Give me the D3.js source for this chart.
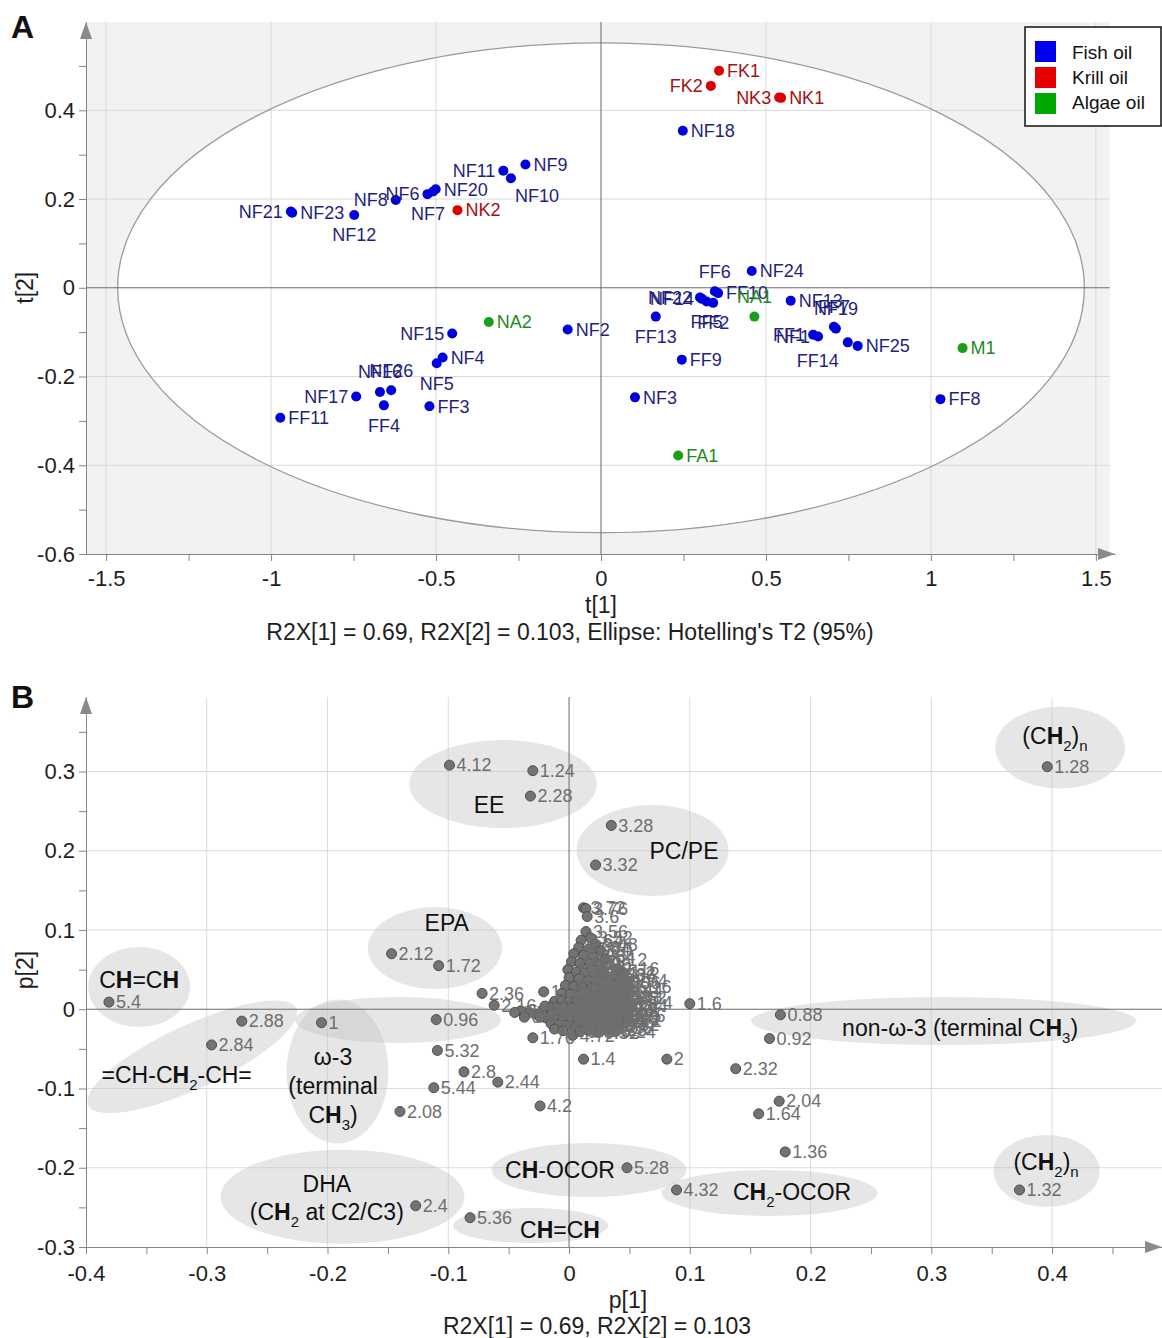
<!doctype html>
<html>
<head>
<meta charset="utf-8">
<script src="https://cdn.jsdelivr.net/npm/d3@7"></script>
<style>
  body { margin: 0; background: #fff; }
  svg { display: block; font-family: Arial, "Liberation Sans", sans-serif; }
  .axis .domain, .axis line { stroke: #858585; }
  .axis text { font-size: 22px; fill: #1e1e1e; font-family: Arial, "Liberation Sans", sans-serif; }
</style>
</head>
<body>
<svg id="chart" width="1162" height="1338"></svg>
<script>
// ---- panel A : scores t[1], t[2] ----
var fishOil = [
  ["NF21",-0.940,0.172],["NF23",-0.936,0.169],["NF12",-0.748,0.164],["NF8",-0.622,0.198],
  ["NF6",-0.526,0.211],["NF7",-0.509,0.217],["NF20",-0.501,0.222],["NF11",-0.296,0.264],
  ["NF10",-0.273,0.247],["NF9",-0.229,0.278],["NF18",0.248,0.354],
  ["NF2",-0.101,-0.094],["NF15",-0.451,-0.103],["NF4",-0.480,-0.157],["NF5",-0.498,-0.170],
  ["NF16",-0.670,-0.235],["NF26",-0.636,-0.231],["NF17",-0.742,-0.245],["FF4",-0.658,-0.265],
  ["FF3",-0.520,-0.267],["FF11",-0.972,-0.293],
  ["FF6",0.345,-0.008],["NF24",0.457,0.038],["NF22",0.300,-0.022],["NF14",0.306,-0.025],
  ["FF5",0.320,-0.031],["FF2",0.340,-0.034],["FF10",0.355,-0.012],["FF13",0.166,-0.065],
  ["NF13",0.575,-0.029],["FF7",0.706,-0.088],["NF19",0.712,-0.092],["FF1",0.643,-0.106],
  ["NF1",0.658,-0.110],["FF14",0.748,-0.123],["NF25",0.778,-0.131],["FF8",1.029,-0.251],
  ["FF9",0.245,-0.162],["NF3",0.103,-0.247]
];
var krillOil = [["FK1",0.358,0.489],["FK2",0.333,0.455],["NK3",0.540,0.429],["NK1",0.546,0.428],["NK2",-0.435,0.175]];
var algaeOil = [["NA2",-0.340,-0.077],["NA1",0.465,-0.065],["M1",1.096,-0.136],["FA1",0.234,-0.378]];
var groupNames = ["Fish oil", "Krill oil", "Algae oil"];
var hotellingT2 = [1.465, 0.552];   // ellipse semi-axes (t units)

var aXTicks = [-1.5,-1,-0.5,0,0.5,1,1.5], aXMinor = [-1.25,-0.75,-0.25,0.25,0.75,1.25];
var aYTicks = [-0.6,-0.4,-0.2,0,0.2,0.4], aYMinor = [-0.5,-0.3,-0.1,0.1,0.3,0.5];

// ---- panel B : loadings p[1], p[2] (label = ppm) ----
var loadingsLabelled = [
  ["5.4",-0.381,0.009],["2.88",-0.271,-0.015],["2.84",-0.296,-0.045],["1",-0.205,-0.017],
  ["0.96",-0.110,-0.013],["5.32",-0.109,-0.052],["2.8",-0.087,-0.079],["2.44",-0.059,-0.092],
  ["5.44",-0.112,-0.099],["2.08",-0.140,-0.129],["4.2",-0.024,-0.122],["2.12",-0.147,0.070],
  ["1.72",-0.108,0.055],["2.36",-0.072,0.020],["2.16",-0.062,0.005],["1.08",-0.021,0.022],
  ["1.76",-0.030,-0.036],["2.4",-0.127,-0.248],["5.36",-0.082,-0.263],["4.12",-0.099,0.308],
  ["1.24",-0.030,0.301],["2.28",-0.032,0.269],["3.28",0.035,0.232],["3.32",0.022,0.182],
  ["1.6",0.100,0.007],["0.88",0.175,-0.007],["0.92",0.166,-0.037],["1.4",0.012,-0.063],
  ["2",0.081,-0.063],["2.32",0.138,-0.075],["2.04",0.174,-0.116],["1.64",0.157,-0.132],
  ["1.36",0.179,-0.180],["5.28",0.048,-0.200],["4.32",0.089,-0.228],["1.32",0.373,-0.228],
  ["1.28",0.396,0.306]
];
var loadingsCluster = [
  ["3.72",0.012,0.128],["3.76",0.014,0.127],["3.6",0.015,0.117],["3.56",0.014,0.098],
  ["3.52",0.018,0.090],["3.64",0.010,0.087],["3.48",0.022,0.082],["3.68",0.008,0.078],
  ["3.44",0.016,0.076],["1.0",0.026,0.074],["3.8",0.004,0.070],["3.36",0.012,0.068],
  ["3.84",0.020,0.066],["1.12",0.030,0.063],["3.88",0.002,0.060],["3.92",0.009,0.058],
  ["3.96",0.017,0.057],["4.0",0.025,0.055],["1.2",0.045,0.046],["1.16",0.040,0.051],
  ["4.04",-0.001,0.050],["4.08",0.006,0.047],["4.16",0.013,0.046],["4.24",0.021,0.045],
  ["4.28",0.029,0.044],["4.36",0.037,0.042],["4.4",0.000,0.040],["4.44",0.008,0.038],
  ["4.48",0.016,0.036],["4.52",0.024,0.035],["4.56",0.032,0.034],["1.06",0.041,0.033],
  ["1.04",0.047,0.036],["4.6",-0.003,0.030],["4.64",0.004,0.029],["4.68",0.011,0.028],
  ["4.76",0.019,0.027],["4.8",0.027,0.026],["4.84",0.035,0.025],["1.44",0.043,0.024],
  ["4.88",-0.006,0.020],["4.92",0.001,0.019],["4.96",0.009,0.018],["5.0",0.017,0.018],
  ["5.04",0.025,0.017],["5.08",0.033,0.016],["1.48",0.040,0.015],["1.52",0.046,0.014],
  ["5.12",-0.012,0.010],["5.16",-0.006,0.011],["5.2",0.000,0.010],["5.24",0.006,0.009],
  ["5.48",0.013,0.009],["5.52",0.020,0.008],["5.56",0.027,0.008],["5.6",0.034,0.007],
  ["0.8",0.041,0.006],["0.84",0.047,0.005],
  ["1.56",-0.016,0.003],["1.68",-0.010,0.002],["1.8",-0.004,0.003],["1.84",0.002,0.002],
  ["1.88",0.008,0.001],["1.92",0.015,0.002],["1.96",0.022,0.000],["2.2",0.029,0.001],
  ["2.24",0.036,-0.001],["3.0",0.043,-0.002],["3.4",0.048,0.000],
  ["2.48",-0.022,-0.003],["2.52",-0.014,-0.005],["2.56",-0.008,-0.004],["2.6",-0.002,-0.006],
  ["2.64",0.004,-0.005],["2.68",0.011,-0.007],["2.72",0.018,-0.006],["2.76",0.025,-0.008],
  ["2.92",0.032,-0.007],["2.96",0.039,-0.009],["0.76",0.045,-0.008],
  ["3.04",-0.028,-0.006],["3.08",-0.019,-0.011],["3.12",-0.012,-0.012],["3.16",-0.005,-0.013],
  ["3.2",0.001,-0.012],["3.24",0.008,-0.014],["0.72",0.015,-0.013],["0.68",0.022,-0.015],
  ["5.64",0.029,-0.014],["5.68",0.036,-0.016],["5.72",0.042,-0.015],
  ["5.76",-0.033,-0.004],["5.8",-0.024,-0.010],["5.84",-0.015,-0.018],["5.88",-0.008,-0.019],
  ["5.92",-0.001,-0.020],["5.96",0.006,-0.021],["6.0",0.013,-0.020],["0.64",0.020,-0.022],
  ["0.6",0.027,-0.021],["0.56",0.034,-0.023],["0.52",0.040,-0.020],
  ["4.72",0.003,-0.033],["0.48",-0.012,-0.025],["0.44",-0.005,-0.027],["0.4",0.009,-0.028],
  ["0.36",0.016,-0.027],["0.32",0.023,-0.029],["0.28",0.030,-0.026],["0.24",0.037,-0.028],
  ["6.04",-0.040,-0.002],["6.08",-0.045,-0.004],["6.12",-0.037,-0.010],["6.16",0.050,0.028],
  ["6.2",0.049,-0.012],["6.24",0.051,0.008],["6.28",-0.020,0.004]
];

var bXTicks = [-0.4,-0.3,-0.2,-0.1,0,0.1,0.2,0.3,0.4];
var bXMinor = [-0.35,-0.25,-0.15,-0.05,0.05,0.15,0.25,0.35,0.45];
var bYTicks = [-0.3,-0.2,-0.1,0,0.1,0.2,0.3];
var bYMinor = [-0.25,-0.15,-0.05,0.05,0.15,0.25,0.35];

// assignment regions drawn on the loadings plot (p units)
var regions = [
  {cx:-0.356, cy:0.028,  rx:0.0422, ry:0.0505, rot:0},
  {cx:-0.312, cy:-0.060, rx:0.095,  ry:0.040,  rot:-25},
  {cx:-0.1917,cy:-0.0786,rx:0.0422, ry:0.0909, rot:0},
  {cx:-0.1416,cy:-0.0136,rx:0.0853, ry:0.029,  rot:0},
  {cx:-0.111, cy:0.0772, rx:0.0555, ry:0.0517, rot:0},
  {cx:-0.1876,cy:-0.2366,rx:0.101,  ry:0.0593, rot:0},
  {cx:-0.0319,cy:-0.2729,rx:0.0642, ry:0.0221, rot:0},
  {cx:0.0166, cy:-0.2029,rx:0.0807, ry:0.0341, rot:0},
  {cx:0.166,  cy:-0.2319,rx:0.0894, ry:0.029,  rot:0},
  {cx:0.3101, cy:-0.0149,rx:0.1594, ry:0.0303, rot:0},
  {cx:0.3955, cy:-0.2042,rx:0.0439, ry:0.0454, rot:0},
  {cx:0.4066, cy:0.3302, rx:0.0538, ry:0.0517, rot:0},
  {cx:-0.0547,cy:0.2842, rx:0.0778, ry:0.0555, rot:0},
  {cx:0.0691, cy:0.2003, rx:0.0629, ry:0.0574, rot:0}
];
var regionText = [
  ["C**H**=C**H**", -0.356, 0.0368],
  ["=CH-C**H**_{2}-CH=", -0.3249, -0.083],
  ["ω-3", -0.1954, -0.0603], ["(terminal", -0.1954, -0.0969], ["C**H**_{3})", -0.1954, -0.1335],
  ["EPA", -0.1013, 0.1088],
  ["DHA", -0.2006, -0.2206], ["(C**H**_{2} at C2/C3)", -0.2006, -0.2559],
  ["C**H**=C**H**", -0.0075, -0.2786],
  ["C**H**-OCOR", -0.0075, -0.2029],
  ["C**H**_{2}-OCOR", 0.1847, -0.2306],
  ["non-ω-3 (terminal C**H**_{3})", 0.3238, -0.0237],
  ["(C**H**_{2})_{n}", 0.395, -0.1928],
  ["(C**H**_{2})_{n}", 0.4024, 0.3447],
  ["EE", -0.0662, 0.2577],
  ["PC/PE", 0.0952, 0.1996]
];

// label placement for the score plot: default is right of the point
var labelPlace = {
  NF21:"l", NF12:"b", NF8:"l", NF6:"l", NF7:[12,22,"end"], NF11:"l", NF10:[4,18,"start"],
  NF15:"l", NF5:"b", NF16:"t", NF26:"t", NF17:"l", FF4:"b", FF6:"t", NF22:"l", NF14:"l",
  FF5:"b", FF2:"b", FF13:"b", FF7:"t", NF19:"t", FF1:"l", NF1:"l", FF14:[-9,18,"end"],
  FK2:"l", NK3:"l", NA1:"t"
};
var placeCodes = { r:[8,0,"start"], l:[-8,0,"end"], t:[0,-20,"middle"], b:[0,20,"middle"] };

var dotColors = ["#0000dd", "#dd0000", "#1a9e1a"];
var textColors = ["#1f1f80", "#a31010", "#1f8a1f"];
var legendColors = ["#0000f0", "#e80000", "#00a800"];

var svg = d3.select("#chart");
var fmt = function(d) { return String(Math.round(d * 100) / 100); };

function arrowRight(g, x, y) {
  g.append("path").attr("d", "M" + x + "," + y + "L" + (x - 17) + "," + (y - 6) + "L" + (x - 17) + "," + (y + 6) + "Z")
    .attr("fill", "#8a8a8a");
}
function arrowUp(g, x, y) {
  g.append("path").attr("d", "M" + x + "," + y + "L" + (x - 6) + "," + (y + 17) + "L" + (x + 6) + "," + (y + 17) + "Z")
    .attr("fill", "#8a8a8a");
}
function drawAxes(g, x, y, xt, xm, yt, ym, pad) {
  var y0 = y.range()[0], x0 = x.range()[0];
  g.append("g").attr("class", "axis").attr("transform", "translate(0," + y0 + ")")
    .call(d3.axisBottom(x).tickValues(xm).tickFormat("").tickSize(7).tickSizeOuter(0));
  g.append("g").attr("class", "axis").attr("transform", "translate(0," + y0 + ")")
    .call(d3.axisBottom(x).tickValues(xt).tickFormat(fmt).tickSize(7).tickSizeOuter(0).tickPadding(pad));
  g.append("g").attr("class", "axis").attr("transform", "translate(" + x0 + ",0)")
    .call(d3.axisLeft(y).tickValues(ym).tickFormat("").tickSize(7).tickSizeOuter(0));
  g.append("g").attr("class", "axis").attr("transform", "translate(" + x0 + ",0)")
    .call(d3.axisLeft(y).tickValues(yt).tickFormat(fmt).tickSize(7).tickSizeOuter(0).tickPadding(4));
  arrowRight(g, x.range()[1], y0);
  arrowUp(g, x0, y.range()[1]);
}
function richText(t, str) {
  var parts = str.split(/(\*\*[^*]+\*\*|_\{[^}]+\})/).filter(function(s) { return s.length; });
  var shifted = false;
  parts.forEach(function(s) {
    var ts = t.append("tspan");
    if (s.indexOf("**") === 0) { ts.attr("font-weight", "bold").text(s.slice(2, -2)); }
    else if (s.indexOf("_{") === 0) { ts.attr("font-size", "15px").attr("dy", 7).text(s.slice(2, -1)); shifted = true; return; }
    else { ts.text(s); }
    if (shifted) { ts.attr("dy", -7); shifted = false; }
  });
}

// ================= panel A =================
var xA = d3.scaleLinear().domain([-1.561, 1.558]).range([86, 1115]);
var yA = d3.scaleLinear().domain([-0.6, 0.599]).range([554, 22]);
var gA = svg.append("g");

gA.append("rect").attr("x", xA(-1.561)).attr("y", yA(0.599))
  .attr("width", xA(1.542) - xA(-1.561)).attr("height", yA(-0.6) - yA(0.599)).attr("fill", "#f2f2f2");
gA.append("ellipse").attr("cx", xA(0)).attr("cy", yA(0))
  .attr("rx", xA(hotellingT2[0]) - xA(0)).attr("ry", yA(0) - yA(hotellingT2[1])).attr("fill", "#fff");
gA.selectAll(".gx").data(aXTicks.filter(function(d) { return d !== 0; })).enter().append("line")
  .attr("x1", function(d) { return xA(d); }).attr("x2", function(d) { return xA(d); })
  .attr("y1", yA(0.599)).attr("y2", yA(-0.6)).attr("stroke", "#d9d9d9");
gA.selectAll(".gy").data(aYTicks.filter(function(d) { return d !== 0 && d !== -0.6; })).enter().append("line")
  .attr("x1", xA(-1.561)).attr("x2", xA(1.542))
  .attr("y1", function(d) { return yA(d); }).attr("y2", function(d) { return yA(d); }).attr("stroke", "#d9d9d9");
gA.append("ellipse").attr("cx", xA(0)).attr("cy", yA(0))
  .attr("rx", xA(hotellingT2[0]) - xA(0)).attr("ry", yA(0) - yA(hotellingT2[1]))
  .attr("fill", "none").attr("stroke", "#9a9a9a").attr("stroke-width", 1.3);
gA.append("line").attr("x1", xA(0)).attr("x2", xA(0)).attr("y1", yA(0.599)).attr("y2", yA(-0.6)).attr("stroke", "#6a6a6a");
gA.append("line").attr("x1", xA(-1.561)).attr("x2", xA(1.542)).attr("y1", yA(0)).attr("y2", yA(0)).attr("stroke", "#6a6a6a");
drawAxes(gA, xA, yA, aXTicks, aXMinor, aYTicks, aYMinor, 9);

[fishOil, krillOil, algaeOil].forEach(function(rows, gi) {
  var grp = gA.append("g");
  grp.selectAll("circle").data(rows).enter().append("circle")
    .attr("cx", function(d) { return xA(d[1]); }).attr("cy", function(d) { return yA(d[2]); })
    .attr("r", 5).attr("fill", dotColors[gi]);
  grp.selectAll("text").data(rows).enter().append("text")
    .each(function(d) {
      var p = labelPlace[d[0]] || "r";
      if (typeof p === "string") p = placeCodes[p];
      d3.select(this).attr("x", xA(d[1]) + p[0]).attr("y", yA(d[2]) + p[1]).attr("text-anchor", p[2]);
    })
    .attr("dy", "0.35em").attr("font-size", "18px").attr("fill", textColors[gi])
    .text(function(d) { return d[0]; });
});

// legend
var leg = gA.append("g").attr("transform", "translate(1025,27)");
leg.append("rect").attr("x", 0).attr("y", 0).attr("width", 136).attr("height", 99)
  .attr("fill", "#fff").attr("stroke", "#111").attr("stroke-width", 1.5);
groupNames.forEach(function(n, i) {
  leg.append("rect").attr("x", 10).attr("y", 14 + i * 26).attr("width", 21).attr("height", 21).attr("fill", legendColors[i]);
  leg.append("text").attr("x", 47).attr("y", 25 + i * 25).attr("dy", "0.35em").attr("font-size", "19px").attr("fill", "#111").text(n);
});

gA.append("text").attr("x", 11).attr("y", 38).attr("font-size", "32px").attr("font-weight", "bold").attr("fill", "#111").text("A");
gA.append("text").attr("x", 601).attr("y", 613).attr("text-anchor", "middle").attr("font-size", "23px").attr("fill", "#1e1e1e").text("t[1]");
gA.append("text").attr("x", 570).attr("y", 640).attr("text-anchor", "middle").attr("font-size", "23px").attr("fill", "#1e1e1e")
  .text("R2X[1] = 0.69, R2X[2] = 0.103, Ellipse: Hotelling's T2 (95%)");
gA.append("text").attr("transform", "translate(33," + yA(0) + ") rotate(-90)").attr("text-anchor", "middle")
  .attr("font-size", "23px").attr("fill", "#1e1e1e").text("t[2]");

// ================= panel B =================
var xB = d3.scaleLinear().domain([-0.4, 0.491]).range([86, 1162]);
var yB = d3.scaleLinear().domain([-0.3, 0.394]).range([1247, 697]);
var gB = svg.append("g");

gB.selectAll(".gx").data(bXTicks.filter(function(d) { return d !== 0 && d !== -0.4; })).enter().append("line")
  .attr("x1", function(d) { return xB(d); }).attr("x2", function(d) { return xB(d); })
  .attr("y1", yB(0.394)).attr("y2", yB(-0.3)).attr("stroke", "#dcdcdc");
gB.selectAll(".gy").data(bYTicks.filter(function(d) { return d !== 0 && d !== -0.3; })).enter().append("line")
  .attr("x1", xB(-0.4)).attr("x2", xB(0.491))
  .attr("y1", function(d) { return yB(d); }).attr("y2", function(d) { return yB(d); }).attr("stroke", "#dcdcdc");

gB.selectAll(".region").data(regions).enter().append("ellipse")
  .attr("transform", function(d) { return "translate(" + xB(d.cx) + "," + yB(d.cy) + ") rotate(" + d.rot + ")"; })
  .attr("rx", function(d) { return xB(d.rx) - xB(0); })
  .attr("ry", function(d) { return yB(0) - yB(d.ry); })
  .attr("fill", "#c4c4c4").attr("fill-opacity", 0.42);

gB.append("line").attr("x1", xB(0)).attr("x2", xB(0)).attr("y1", yB(0.394)).attr("y2", yB(-0.3)).attr("stroke", "#6a6a6a");
gB.append("line").attr("x1", xB(-0.4)).attr("x2", xB(0.491)).attr("y1", yB(0)).attr("y2", yB(0)).attr("stroke", "#6a6a6a");
drawAxes(gB, xB, yB, bXTicks, bXMinor, bYTicks, bYMinor, 11);

var allLoadings = loadingsCluster.concat(loadingsLabelled);
gB.append("g").selectAll("circle").data(allLoadings).enter().append("circle")
  .attr("cx", function(d) { return xB(d[1]); }).attr("cy", function(d) { return yB(d[2]); })
  .attr("r", 5).attr("fill", "#737373").attr("stroke", "#4d4d4d").attr("stroke-width", 1);
gB.append("g").selectAll("text").data(allLoadings).enter().append("text")
  .attr("x", function(d) { return xB(d[1]) + 7; }).attr("y", function(d) { return yB(d[2]); })
  .attr("dy", "0.35em").attr("font-size", "18px").attr("fill", "#6e6e6e")
  .text(function(d) { return d[0]; });

gB.selectAll(".rtext").data(regionText).enter().append("text")
  .attr("x", function(d) { return xB(d[1]); }).attr("y", function(d) { return yB(d[2]); })
  .attr("dy", "0.35em").attr("text-anchor", "middle").attr("font-size", "23px").attr("fill", "#111")
  .each(function(d) { richText(d3.select(this), d[0]); });

gB.append("text").attr("x", 11).attr("y", 708).attr("font-size", "32px").attr("font-weight", "bold").attr("fill", "#111").text("B");
gB.append("text").attr("x", 628).attr("y", 1308).attr("text-anchor", "middle").attr("font-size", "23px").attr("fill", "#1e1e1e").text("p[1]");
gB.append("text").attr("x", 597).attr("y", 1334).attr("text-anchor", "middle").attr("font-size", "23px").attr("fill", "#1e1e1e")
  .text("R2X[1] = 0.69, R2X[2] = 0.103");
gB.append("text").attr("transform", "translate(33,970) rotate(-90)").attr("text-anchor", "middle")
  .attr("font-size", "23px").attr("fill", "#1e1e1e").text("p[2]");
</script>
</body>
</html>
